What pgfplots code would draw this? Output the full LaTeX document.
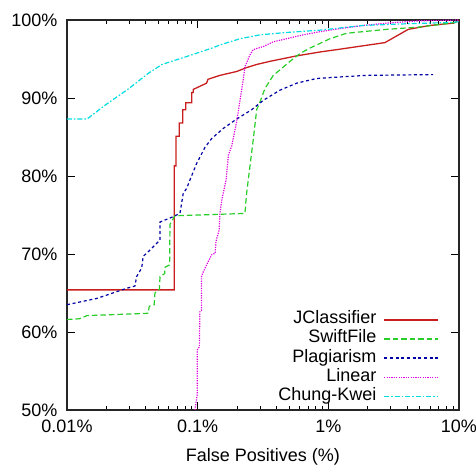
\documentclass[border=0pt]{standalone}
\usepackage{fontspec}
\setmainfont{Liberation Sans}
\usepackage{pgfplots}
\pgfplotsset{compat=1.18}
\definecolor{cR}{RGB}{200,30,30}
\definecolor{cG}{RGB}{40,205,40}
\definecolor{cB}{RGB}{0,0,165}
\definecolor{cM}{RGB}{225,0,225}
\definecolor{cC}{RGB}{0,220,225}
\pgfplotsset{legend image code/.code={\draw[#1,line width=1.3pt] (0pt,0pt) -- (54pt,0pt);}}
\begin{document}
\begin{tikzpicture}
\path[use as bounding box] (-67pt,-56pt) rectangle (409pt,410pt);
\begin{axis}[
  at={(0pt,0pt)}, anchor=south west,
  scale only axis, width=392pt, height=390pt,
  font=\fontsize{18}{22}\selectfont,
  xmode=log, xmin=0.01, xmax=10, ymin=50, ymax=100,
  xtick={0.01,0.1,1,10},
  xticklabels={0.01\%,0.1\%,1\%,10\%},
  minor xtick={0.02,0.03,0.04,0.05,0.06,0.07,0.08,0.09,0.2,0.3,0.4,0.5,0.6,0.7,0.8,0.9,2,3,4,5,6,7,8,9},
  ytick={50,60,70,80,90,100},
  yticklabels={50\%,60\%,70\%,80\%,90\%,100\%},
  xticklabel style={yshift=-6pt},
  yticklabel style={xshift=-6pt},
  tick align=inside,
  major tick length=8pt, minor tick length=4pt,
  every tick/.style={black, line width=0.9pt},
  axis line style={line width=1.1pt, black!85},
  xlabel={False Positives (\%)},
  xlabel style={yshift=-9pt},
  legend cell align=right,
  legend plot pos=right,
  legend style={at={(1,0)}, anchor=south east, xshift=-20pt, yshift=4pt,
    draw=none, fill=none, inner sep=0pt, column sep=7pt,
    nodes={inner sep=0pt, text height=13.5pt, text depth=5.6pt}},
]
\addplot[cR, line width=1.3pt] coordinates {
(0.01,65.4) (0.0662,65.4) (0.0662,81.3) (0.0682,81.3) (0.0682,85.1) (0.0723,85.1) (0.0723,86.8) (0.0768,86.8) (0.0768,88.5) (0.0810,88.5) (0.0810,89.4) (0.0900,89.4) (0.0900,90.7) (0.0925,90.7) (0.0925,91.1) (0.101,91.4) (0.117,91.9) (0.120,92.4) (0.148,92.9) (0.199,93.4) (0.237,93.9) (0.283,94.3) (0.357,94.7) (0.572,95.4) (0.863,95.9) (1.16,96.2) (2.71,97.1) (4.09,98.8) (5.99,99.3) (9.03,99.6) (10,99.9)
};
\addlegendentry{JClassifier}
\addplot[cG, line width=1.2pt, dash pattern=on 5.5pt off 3pt] coordinates {
(0.01,61.6) (0.0125,61.7) (0.0142,62.1) (0.0419,62.4) (0.0426,63.3) (0.0465,63.5) (0.0471,65.0) (0.051,65.5) (0.0515,67.1) (0.056,67.5) (0.0562,68.3) (0.061,68.6) (0.0614,73.8) (0.067,74.9) (0.230,75.2) (0.237,77.8) (0.244,79.5) (0.266,84.6) (0.283,88.5) (0.300,89.5) (0.327,91.2) (0.379,92.9) (0.426,93.6) (0.509,94.7) (0.607,95.7) (0.723,96.4) (0.863,97.0) (1.03,97.6) (1.38,98.3) (2.79,98.8) (5.02,99.1) (9.59,99.7) (10,99.8)
};
\addlegendentry{SwiftFile}
\addplot[cB, line width=1.2pt, dash pattern=on 3pt off 2.7pt] coordinates {
(0.01,63.5) (0.01687,64.3) (0.0286,65.6) (0.0331,65.9) (0.0341,67.1) (0.0373,68.2) (0.0383,69.7) (0.0431,70.5) (0.0515,71.8) (0.0515,74.1) (0.0632,74.7) (0.0732,75.2) (0.0776,77.8) (0.0824,78.4) (0.0873,79.5) (0.0982,81.6) (0.114,83.7) (0.128,84.8) (0.157,86.1) (0.199,87.3) (0.259,88.5) (0.318,89.7) (0.426,91.0) (0.572,91.9) (0.813,92.5) (1.23,92.7) (1.96,92.9) (6.35,93.0)
};
\addlegendentry{Plagiarism}
\addplot[cM, line width=1.2pt, dash pattern=on 1.2pt off 1.2pt] coordinates {
(0.0954,50) (0.0993,52) (0.0993,57.7) (0.103,58.1) (0.104,62.6) (0.107,62.8) (0.107,67.1) (0.109,67.5) (0.117,68.6) (0.128,69.9) (0.136,70.1) (0.138,71.6) (0.146,73.1) (0.148,75.2) (0.153,76.9) (0.165,79.5) (0.172,82.7) (0.182,83.8) (0.199,87.0) (0.211,89.7) (0.223,92.3) (0.230,94.0) (0.251,95.5) (0.266,96.2) (0.318,96.6) (0.379,97.2) (0.479,97.6) (0.643,98.1) (0.863,98.5) (1.23,98.9) (1.85,99.3) (2.79,99.6) (5.02,99.9) (10,100)
};
\addlegendentry{Linear}
\addplot[cC, line width=1.2pt, dash pattern=on 5pt off 2pt on 1.5pt off 2pt] coordinates {
(0.01,87.3) (0.01423,87.3) (0.01964,89.1) (0.0297,91.2) (0.0422,93.2) (0.0533,94.3) (0.0853,95.4) (0.129,96.4) (0.148,96.8) (0.211,97.6) (0.300,98.1) (0.479,98.4) (0.863,98.7) (1.85,99.3) (3.74,99.5) (9.03,99.7) (10,99.8)
};
\addlegendentry{Chung-Kwei}
\end{axis}
\end{tikzpicture}
\end{document}
